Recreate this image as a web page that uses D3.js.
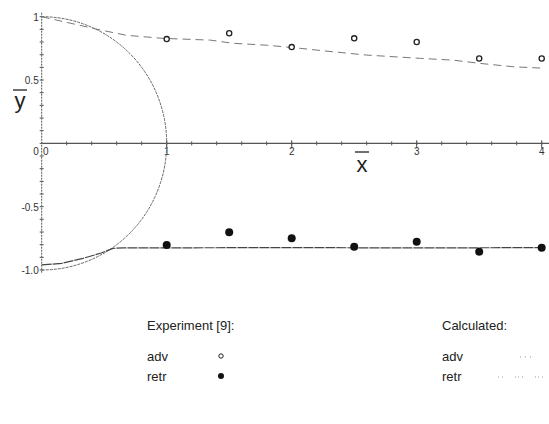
<html>
<head>
<style>
  body { margin: 0; background: #fff; }
  text { font-family: "Liberation Sans", Arial, sans-serif; fill: #222; }
  .tick text { font-size: 10px; fill: #333; }
</style>
</head>
<body>
<script src="https://d3js.org/d3.v7.min.js"></script>
<script>
// experimental points, reference [9]
var expX = [1.0, 1.5, 2.0, 2.5, 3.0, 3.5, 4.0];
var expAdv = [0.823, 0.869, 0.760, 0.829, 0.80, 0.67, 0.67];
var expRetr = [-0.803, -0.702, -0.750, -0.816, -0.777, -0.856, -0.824];

// calculated contact line positions
var calcAdvX = [0, 0.47, 0.68, 0.97, 1.35, 1.53, 1.8, 2.07, 2.33, 2.6, 3.03, 3.29, 3.51, 3.77, 4.0];
var calcAdvY = [1.0, 0.895, 0.853, 0.829, 0.815, 0.79, 0.775, 0.75, 0.723, 0.697, 0.671, 0.657, 0.631, 0.605, 0.594];
var calcRetrX = [0, 0.16, 0.33, 0.47, 0.57, 0.65, 1.0, 2.0, 3.0, 4.0];
var calcRetrY = [-0.96, -0.947, -0.908, -0.868, -0.829, -0.826, -0.825, -0.823, -0.826, -0.823];

var xTicks = [0, 1, 2, 3, 4];
var yTicks = [1, 0.5, 0, -0.5, -1];
var yTickLabels = ["1", "0.5", "0", "-0.5", "-1.0"];

var width = 549, height = 424;
var svg = d3.select("body").append("svg").attr("width", width).attr("height", height);

var x = d3.scaleLinear().domain([0, 4]).range([41.7, 541.7]);
var y = d3.scaleLinear().domain([-1, 1]).range([270, 16.7]);

var axisColor = "#555";

// x axis along y=0
var gx = svg.append("g").attr("transform", "translate(0," + y(0) + ")");
gx.append("line").attr("x1", x(0)).attr("x2", width).attr("stroke", axisColor).attr("stroke-width", 1.2);
gx.selectAll(".minor").data(d3.range(0.2, 4.01, 0.2)).enter().append("line")
  .attr("x1", function(d){ return x(d); }).attr("x2", function(d){ return x(d); })
  .attr("y1", -2).attr("y2", 2).attr("stroke", axisColor);
gx.selectAll(".major").data(xTicks.slice(1)).enter().append("line")
  .attr("x1", function(d){ return x(d); }).attr("x2", function(d){ return x(d); })
  .attr("y1", -3).attr("y2", 5).attr("stroke", axisColor);
gx.selectAll(".lab").data(xTicks).enter().append("text")
  .attr("class", "tick")
  .attr("x", function(d){ return x(d) + (d == 0 ? 4 : 0); })
  .attr("y", 12)
  .attr("text-anchor", "middle")
  .style("font-size", "10px").style("fill", "#333")
  .text(function(d){ return d; });

// y axis along x=0
var gy = svg.append("g").attr("transform", "translate(" + x(0) + ",0)");
gy.append("line").attr("y1", y(1) - 4).attr("y2", y(-1) + 3).attr("stroke", axisColor)
  .attr("stroke-width", 1).attr("stroke-dasharray", "2,1");
gy.selectAll(".minor").data(d3.range(-1, 1.01, 0.1)).enter().append("line")
  .attr("y1", function(d){ return y(d); }).attr("y2", function(d){ return y(d); })
  .attr("x1", -2).attr("x2", 2).attr("stroke", axisColor);
gy.selectAll(".lab").data(yTicks).enter().append("text")
  .attr("x", function(d){ return d == 0 ? -3 : -3; })
  .attr("y", function(d){ return d == 0 ? y(d) + 12 : y(d) + 4; })
  .attr("text-anchor", "end")
  .style("font-size", "10px").style("fill", "#333")
  .text(function(d, i){ return yTickLabels[i]; });

// axis titles with overbar
svg.append("text").attr("x", 20).attr("y", 108).attr("text-anchor", "middle")
  .style("font-size", "22px").text("y");
svg.append("line").attr("x1", 13).attr("x2", 27).attr("y1", 90).attr("y2", 90).attr("stroke", "#222").attr("stroke-width", 1.3);
svg.append("text").attr("x", 362).attr("y", 172).attr("text-anchor", "middle")
  .style("font-size", "22px").text("x");
svg.append("line").attr("x1", 355).attr("x2", 369).attr("y1", 152).attr("y2", 152).attr("stroke", "#222").attr("stroke-width", 1.3);

// drop outline (unit semicircle)
var rx = x(1) - x(0), ry = y(0) - y(1);
svg.append("path")
  .attr("d", "M" + x(0) + "," + y(1) + " A" + rx + "," + ry + " 0 0 1 " + x(1) + "," + y(0) +
             " A" + rx + "," + ry + " 0 0 1 " + x(0) + "," + y(-1))
  .attr("fill", "none").attr("stroke", "#666").attr("stroke-width", 1).attr("stroke-dasharray", "3,1");

// calculated lines
var line = d3.line().x(function(d){ return x(d[0]); }).y(function(d){ return y(d[1]); });
svg.append("path").attr("d", line(d3.zip(calcAdvX, calcAdvY)))
  .attr("fill", "none").attr("stroke", "#777").attr("stroke-width", 1).attr("stroke-dasharray", "8,5");
svg.append("path").attr("d", line(d3.zip(calcRetrX, calcRetrY)))
  .attr("fill", "none").attr("stroke", "#444").attr("stroke-width", 1.2).attr("stroke-dasharray", "10,1");

// experimental markers
svg.selectAll(".adv").data(d3.zip(expX, expAdv)).enter().append("circle")
  .attr("cx", function(d){ return x(d[0]); }).attr("cy", function(d){ return y(d[1]); })
  .attr("r", 2.6).attr("fill", "#fff").attr("stroke", "#222").attr("stroke-width", 1.3);
svg.selectAll(".retr").data(d3.zip(expX, expRetr)).enter().append("circle")
  .attr("cx", function(d){ return x(d[0]); }).attr("cy", function(d){ return y(d[1]); })
  .attr("r", 4).attr("fill", "#111");

// legend
var leg = svg.append("g").style("font-size", "13px");
leg.append("text").attr("x", 147).attr("y", 330).style("font-size", "13px").text("Experiment [9]:");
leg.append("text").attr("x", 147).attr("y", 361).style("font-size", "13px").text("adv");
leg.append("text").attr("x", 147).attr("y", 381).style("font-size", "13px").text("retr");
leg.append("circle").attr("cx", 221).attr("cy", 356).attr("r", 2.2).attr("fill", "#fff").attr("stroke", "#222");
leg.append("circle").attr("cx", 221).attr("cy", 376).attr("r", 3).attr("fill", "#111");
leg.append("text").attr("x", 442).attr("y", 330).style("font-size", "13px").text("Calculated:");
leg.append("text").attr("x", 442).attr("y", 361).style("font-size", "13px").text("adv");
leg.append("text").attr("x", 442).attr("y", 381).style("font-size", "13px").text("retr");
leg.append("line").attr("x1", 520).attr("x2", 533).attr("y1", 357).attr("y2", 357)
  .attr("stroke", "#999").attr("stroke-dasharray", "1,4");
leg.append("line").attr("x1", 498).attr("x2", 546).attr("y1", 377).attr("y2", 377)
  .attr("stroke", "#999").attr("stroke-dasharray", "1,3,1,12,1,2");
</script>
</body>
</html>
